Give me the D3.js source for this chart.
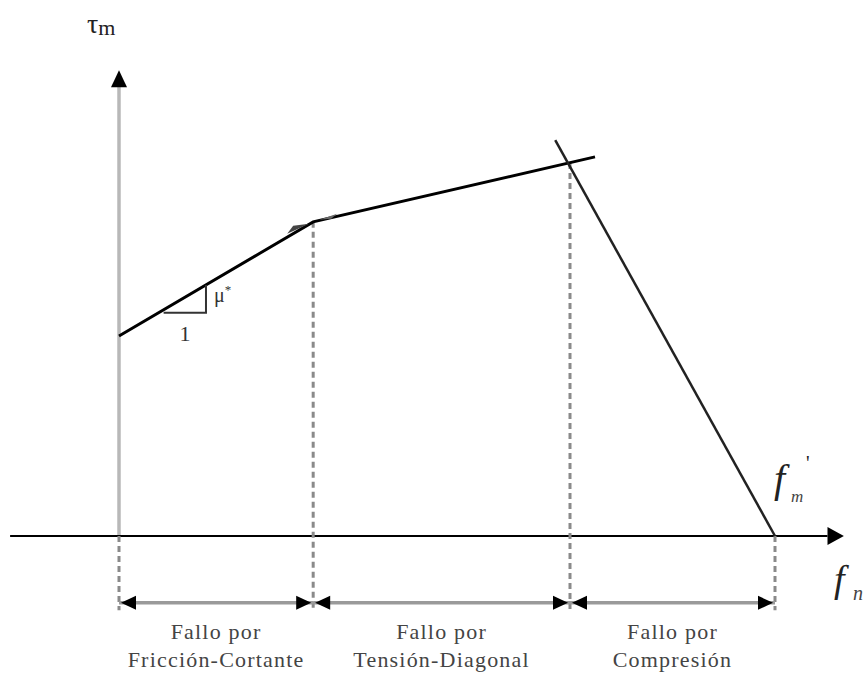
<!DOCTYPE html>
<html lang="en">
<head>
    <meta charset="UTF-8">
    <script src="https://cdn.jsdelivr.net/npm/d3@7"></script>
    <title>Modos de falla</title>
    <style>
        body { margin: 0; background: white; }
        .lbl { font-family: "Liberation Serif", "Times New Roman", "DejaVu Serif", serif; fill: #444; }
    </style>
</head>
<body>
    <div id="chart"></div>

    <script>
        // breakpoints along the normal stress axis (f'm = 1)
        const breaks = [0, 0.296, 0.6875, 1];
        // envelope: friction-shear then diagonal-tension
        const envelope = [
            { x: 0, y: 0.431 },
            { x: 0.296, y: 0.677 },
            { x: 0.7256, y: 0.817 }
        ];
        // compression line down to f'm
        const compression = [
            { x: 0.665, y: 0.853 },
            { x: 1, y: 0 }
        ];
        const crossY = [0.431, 0.677, 0.804, 0];
        const modes = [
            ["Fallo por", "Fricción-Cortante"],
            ["Fallo por", "Tensión-Diagonal"],
            ["Fallo por", "Compresión"]
        ];

        const width = 863, height = 673;

        const svg = d3.select("#chart").append("svg")
            .attr("width", width)
            .attr("height", height);

        const x = d3.scaleLinear().domain([0, 1]).range([119, 775]);
        const y = d3.scaleLinear().domain([0, 1]).range([536, 72]);

        const line = d3.line().x(d => x(d.x)).y(d => y(d.y));

        const dimY = y(-0.144);
        const dashBottom = y(-0.16);

        // vertical axis (gray) with black arrow
        svg.append("line")
            .attr("x1", x(0)).attr("x2", x(0))
            .attr("y1", y(0)).attr("y2", y(0.97))
            .attr("stroke", "#b8b8b8").attr("stroke-width", 3.5);
        svg.append("path")
            .attr("d", `M${x(0)},${y(1.004)} L${x(0) - 8},${y(0.967)} L${x(0) + 8},${y(0.967)} Z`)
            .attr("fill", "black");

        // horizontal axis
        svg.append("line")
            .attr("x1", x(-0.166)).attr("x2", x(1.08))
            .attr("y1", y(0)).attr("y2", y(0))
            .attr("stroke", "black").attr("stroke-width", 2);
        svg.append("path")
            .attr("d", `M${x(1.105)},${y(0)} L${x(1.08)},${y(0) - 9} L${x(1.08)},${y(0) + 9} Z`)
            .attr("fill", "black");

        // dashed verticals
        svg.selectAll(".dash")
            .data(breaks)
            .enter()
            .append("line")
            .attr("x1", d => x(d)).attr("x2", d => x(d))
            .attr("y1", (d, i) => i === 0 ? y(0) : y(crossY[i]))
            .attr("y2", dashBottom)
            .attr("stroke", "#8a8a8a")
            .attr("stroke-width", 3)
            .attr("stroke-dasharray", "6,4");

        // envelope lines
        svg.append("path")
            .attr("d", line(envelope))
            .attr("fill", "none").attr("stroke", "black").attr("stroke-width", 3);
        svg.append("path")
            .attr("d", line(compression))
            .attr("fill", "none").attr("stroke", "#222").attr("stroke-width", 2.5);

        // slope triangle
        const tx0 = x(0.068), tx1 = x(0.1326);
        const ty = y(0.481), tyTop = envelope[0].y + (0.1326 / 0.296) * (envelope[1].y - envelope[0].y);
        svg.append("path")
            .attr("d", `M${tx0},${ty} L${tx1},${ty} L${tx1},${y(tyTop)}`)
            .attr("fill", "none").attr("stroke", "#333").attr("stroke-width", 2);
        svg.append("text").attr("class", "lbl")
            .attr("x", 185).attr("y", 341)
            .attr("text-anchor", "middle")
            .style("font-size", "22px").style("fill", "#333")
            .text("1");
        const mu = svg.append("text").attr("class", "lbl")
            .attr("x", 214).attr("y", 302)
            .style("font-size", "20px").style("fill", "#333");
        mu.append("tspan").text("μ");
        mu.append("tspan").attr("dy", -8).style("font-size", "13px").text("*");

        // small arrow marks near the kink
        svg.append("path")
            .attr("d", `M${x(0.296) - 4},${y(0.677) + 2} L${x(0.296) - 26},${y(0.677) + 12} L${x(0.296) - 20},${y(0.677) + 4} Z`)
            .attr("fill", "#444");
        svg.append("path")
            .attr("d", `M${x(0.296) + 6},${y(0.677) - 2} L${x(0.296) + 24},${y(0.677) - 8} L${x(0.296) + 18},${y(0.677) - 3} Z`)
            .attr("fill", "#666");

        // dimension arrows
        const dims = d3.range(modes.length).map(i => [breaks[i], breaks[i + 1]]);
        const g = svg.selectAll(".dim").data(dims).enter().append("g");
        g.append("line")
            .attr("x1", d => x(d[0])).attr("x2", d => x(d[1]))
            .attr("y1", dimY).attr("y2", dimY)
            .attr("stroke", "#9a9a9a").attr("stroke-width", 3.5);
        g.append("path")
            .attr("d", d => `M${x(d[0]) + 2},${dimY} L${x(d[0]) + 17},${dimY - 7} L${x(d[0]) + 17},${dimY + 7} Z`)
            .attr("fill", "black");
        g.append("path")
            .attr("d", d => `M${x(d[1]) - 2},${dimY} L${x(d[1]) - 17},${dimY - 7} L${x(d[1]) - 17},${dimY + 7} Z`)
            .attr("fill", "black");
        g.each(function (d, i) {
            const cx = (x(d[0]) + x(d[1])) / 2;
            d3.select(this).selectAll("text")
                .data(modes[i])
                .enter()
                .append("text")
                .attr("class", "lbl")
                .attr("x", cx)
                .attr("y", (t, j) => 639 + j * 28)
                .attr("text-anchor", "middle")
                .style("font-size", "22px")
                .style("letter-spacing", "1.2px")
                .text(t => t);
        });

        // axis labels
        const tau = svg.append("text").attr("class", "lbl")
            .attr("x", 87).attr("y", 33)
            .style("font-size", "28px").style("fill", "#222");
        tau.append("tspan").text("τ");
        tau.append("tspan").attr("dy", 2).style("font-size", "22px").text("m");

        svg.append("text").attr("class", "lbl")
            .attr("x", 834).attr("y", 592)
            .style("font-size", "38px").style("font-style", "italic").style("fill", "#222")
            .text("f");
        svg.append("text").attr("class", "lbl")
            .attr("x", 853).attr("y", 600)
            .style("font-size", "20px").style("font-style", "italic").style("fill", "#444")
            .text("n");

        svg.append("text").attr("class", "lbl")
            .attr("x", 774).attr("y", 492)
            .style("font-size", "40px").style("font-style", "italic").style("fill", "#222")
            .text("f");
        svg.append("text").attr("class", "lbl")
            .attr("x", 806).attr("y", 470)
            .style("font-size", "20px").style("fill", "#222")
            .text("'");
        svg.append("text").attr("class", "lbl")
            .attr("x", 791).attr("y", 502)
            .style("font-size", "17px").style("font-style", "italic").style("fill", "#444")
            .text("m");
    </script>
</body>
</html>
